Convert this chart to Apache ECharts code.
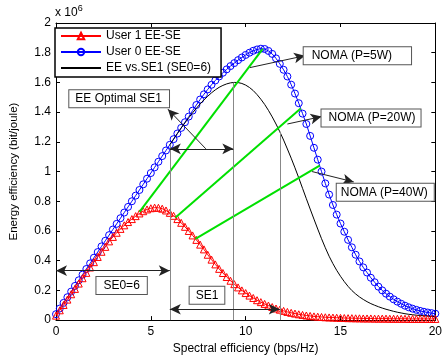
<!DOCTYPE html>
<html>
<head>
<meta charset="utf-8">
<script src="https://cdn.jsdelivr.net/npm/echarts@6.0.0/dist/echarts.min.js"></script>
<style>
  html, body { margin: 0; padding: 0; background: #fff; }
  #chart { width: 445px; height: 360px; }
</style>
</head>
<body>
<div id="chart"></div>
<script>
// spectral efficiency grid (bps/Hz)
const se = [
  0.0, 0.2, 0.4, 0.6, 0.8, 1.0, 1.2, 1.4, 1.6, 1.8,
  2.0, 2.2, 2.4, 2.6, 2.8, 3.0, 3.2, 3.4, 3.6, 3.8,
  4.0, 4.2, 4.4, 4.6, 4.8, 5.0, 5.2, 5.4, 5.6, 5.8,
  6.0, 6.2, 6.4, 6.6, 6.8, 7.0, 7.2, 7.4, 7.6, 7.8,
  8.0, 8.2, 8.4, 8.6, 8.8, 9.0, 9.2, 9.4, 9.6, 9.8,
  10.0, 10.2, 10.4, 10.6, 10.8, 11.0, 11.2, 11.4, 11.6, 11.8,
  12.0, 12.2, 12.4, 12.6, 12.8, 13.0, 13.2, 13.4, 13.6, 13.8,
  14.0, 14.2, 14.4, 14.6, 14.8, 15.0, 15.2, 15.4, 15.6, 15.8,
  16.0, 16.2, 16.4, 16.6, 16.8, 17.0, 17.2, 17.4, 17.6, 17.8,
  18.0, 18.2, 18.4, 18.6, 18.8, 19.0, 19.2, 19.4, 19.6, 19.8,
  20.0
];

// energy efficiency, x 10^6 bit/joule
const user0EE = [
  0.040, 0.078, 0.116, 0.154, 0.192, 0.230, 0.268, 0.306, 0.344, 0.382,
  0.420, 0.458, 0.496, 0.534, 0.572, 0.610, 0.648, 0.686, 0.724, 0.762,
  0.800, 0.838, 0.876, 0.914, 0.952, 0.990, 1.028, 1.066, 1.104, 1.142,
  1.180, 1.218, 1.256, 1.294, 1.332, 1.370, 1.410, 1.448, 1.485, 1.520,
  1.553, 1.584, 1.613, 1.640, 1.665, 1.688, 1.710, 1.730, 1.750, 1.768,
  1.785, 1.800, 1.813, 1.822, 1.827, 1.825, 1.812, 1.792, 1.762, 1.725,
  1.685, 1.640, 1.585, 1.525, 1.460, 1.390, 1.320, 1.240, 1.160, 1.080,
  1.000, 0.920, 0.845, 0.775, 0.710, 0.650, 0.595, 0.540, 0.490, 0.440,
  0.395, 0.355, 0.320, 0.285, 0.255, 0.225, 0.200, 0.178, 0.158, 0.140,
  0.124, 0.110, 0.097, 0.086, 0.077, 0.069, 0.062, 0.056, 0.051, 0.047,
  0.043
];

const user1EE = [
  0.030, 0.066, 0.102, 0.138, 0.174, 0.210, 0.246, 0.282, 0.318, 0.354,
  0.390, 0.425, 0.460, 0.493, 0.530, 0.560, 0.588, 0.614, 0.638, 0.660,
  0.680, 0.700, 0.718, 0.733, 0.745, 0.753, 0.757, 0.756, 0.750, 0.738,
  0.722, 0.702, 0.680, 0.655, 0.628, 0.600, 0.570, 0.540, 0.508, 0.476,
  0.440, 0.407, 0.375, 0.345, 0.317, 0.290, 0.265, 0.242, 0.220, 0.200,
  0.182, 0.165, 0.149, 0.134, 0.121, 0.109, 0.098, 0.088, 0.078, 0.070,
  0.062, 0.055, 0.049, 0.044, 0.039, 0.035, 0.031, 0.028, 0.025, 0.023,
  0.021, 0.019, 0.018, 0.017, 0.016, 0.015, 0.014, 0.013, 0.013, 0.012,
  0.012, 0.011, 0.011, 0.011, 0.010, 0.010, 0.010, 0.010, 0.009, 0.009,
  0.009, 0.009, 0.009, 0.008, 0.008, 0.008, 0.008, 0.008, 0.008, 0.008,
  0.008
];

// EE vs SE1 with SE0 = 6, defined from SE = 6 onwards
const eeVsSe1 = [
  1.180, 1.218, 1.256, 1.293, 1.328, 1.362, 1.395, 1.426, 1.455, 1.482,
  1.507, 1.530, 1.550, 1.567, 1.580, 1.590, 1.597, 1.600, 1.599, 1.593,
  1.582, 1.566, 1.545, 1.518, 1.487, 1.452, 1.412, 1.368, 1.320, 1.268,
  1.212, 1.152, 1.090, 1.025, 0.957, 0.887, 0.817, 0.748, 0.680, 0.613,
  0.548, 0.487, 0.430, 0.380, 0.335, 0.295, 0.259, 0.227, 0.199, 0.176,
  0.156, 0.139, 0.124, 0.111, 0.100, 0.090, 0.081, 0.073, 0.066, 0.059,
  0.053, 0.048, 0.043, 0.039, 0.036, 0.033, 0.031, 0.029, 0.027, 0.025,
  0.024
];
const eeStartIndex = 30; // se[30] = 6

// NOMA operating points: user 1 point -> user 0 point
const nomaLines = [
  [[4.4, 0.728], [10.9, 1.826]],
  [[6.3, 0.690], [12.9, 1.425]],
  [[7.35, 0.547], [13.9, 1.040]]
];

// guide lines dropped from the EE vs SE1 curve
const guideSE = [6, 9.35, 11.8];
const guideEE = [1.18, 1.60, 1.268];

const xTicks = [0, 5, 10, 15, 20];
const yTicks = [0, 0.2, 0.4, 0.6, 0.8, 1, 1.2, 1.4, 1.6, 1.8, 2];

const noteTexts = ['NOMA (P=5W)', 'NOMA (P=20W)', 'NOMA (P=40W)', 'EE Optimal SE1', 'SE0=6', 'SE1'];
const noteAt = [[15.89, 1.78], [16.61, 1.36], [17.36, 0.86], [3.33, 1.49], [3.46, 0.233], [7.96, 0.167]];
const notePad = [[3, 19, 2, 8], [3, 5, 2, 7], [3, 6, 2, 4], [3, 7, 2, 6], [3, 7, 2, 7], [3, 6, 2, 6]];

// arrows: [from, to, doubleHeaded]
const arrows = [
  [[10.23, 1.70], [13.13, 1.78], false],
  [[12.2, 1.32], [14.0, 1.37], false],
  [[13.5, 1.0], [15.7, 0.93], false],
  [[7.9, 1.153], [5.9, 1.42], false],
  [[6, 1.153], [9.35, 1.153], true],
  [[0, 0.333], [6, 0.333], true],
  [[6, 0.073], [11.8, 0.073], true]
];

const FONT = 'Liberation Sans, Arial, Helvetica, sans-serif';
const pairs = (xs, ys) => xs.map((x, i) => [x, ys[i]]);

const chart = echarts.init(document.getElementById('chart'));

const axisCommon = {
  type: 'value',
  splitLine: { show: false },
  axisLine: { show: true, onZero: false, lineStyle: { color: '#000', width: 1 } },
  axisTick: { show: true, inside: true, length: 4, lineStyle: { color: '#000' } },
};

const greenSeries = nomaLines.map((seg, i) => ({
  name: 'noma' + i,
  type: 'line',
  data: seg,
  symbol: 'none',
  silent: true,
  lineStyle: { color: '#00e000', width: 2 },
  z: 4,
}));

chart.setOption({
  animation: false,
  backgroundColor: '#fff',
  textStyle: { fontFamily: FONT },
  grid: { left: 54, right: 4, top: 23, bottom: 37 },
  graphic: [{
    type: 'text',
    left: 55,
    top: 4,
    style: {
      text: '{a|x 10}{b|6}',
      fill: '#000',
      rich: {
        a: { fontSize: 12, fontFamily: FONT },
        b: { fontSize: 9, fontFamily: FONT, padding: [0, 0, 9, 0] },
      },
    },
  }],
  legend: {
    data: [
      { name: 'User 1 EE-SE' },
      { name: 'User 0 EE-SE' },
      { name: 'EE vs.SE1 (SE0=6)', itemStyle: { opacity: 0 } },
    ],
    orient: 'vertical',
    left: 55,
    top: 28,
    itemWidth: 40,
    itemHeight: 8,
    itemGap: 2,
    padding: [1, 10, 2, 5],
    backgroundColor: '#fff',
    borderColor: '#000',
    borderWidth: 1.5,
    borderRadius: 0,
    textStyle: { fontSize: 12, color: '#000', fontFamily: FONT, lineHeight: 14 },
  },
  xAxis: [
    Object.assign({}, axisCommon, {
      min: xTicks[0], max: xTicks[xTicks.length - 1], interval: xTicks[1] - xTicks[0],
      position: 'bottom',
      axisLabel: { fontSize: 12, color: '#000', margin: 6, fontFamily: FONT },
      name: 'Spectral efficiency (bps/Hz)',
      nameLocation: 'middle',
      nameGap: 20,
      nameTextStyle: { fontSize: 12, color: '#000', fontFamily: FONT },
    }),
    Object.assign({}, axisCommon, {
      min: xTicks[0], max: xTicks[xTicks.length - 1], interval: xTicks[1] - xTicks[0],
      position: 'top',
      axisLabel: { show: false },
    }),
  ],
  yAxis: [
    Object.assign({}, axisCommon, {
      min: yTicks[0], max: yTicks[yTicks.length - 1], interval: 0.2,
      position: 'left',
      axisLabel: {
        fontSize: 12, color: '#000', margin: 5, fontFamily: FONT,
        formatter: (v) => String(+v.toFixed(1)),
      },
      name: 'Energy efficiency (bit/joule)',
      nameLocation: 'middle',
      nameGap: 36,
      nameTextStyle: { fontSize: 11.5, color: '#000', fontFamily: FONT },
    }),
    Object.assign({}, axisCommon, {
      min: yTicks[0], max: yTicks[yTicks.length - 1], interval: 0.2,
      position: 'right',
      axisLabel: { show: false },
    }),
  ],
  series: [
    {
      name: 'User 0 EE-SE',
      type: 'line',
      data: pairs(se, user0EE),
      symbol: 'circle',
      symbolSize: 7,
      showAllSymbol: true,
      lineStyle: { color: '#0000ff', width: 1 },
      itemStyle: { color: 'transparent', borderColor: '#0000ff', borderWidth: 1 },
      z: 2,
      markLine: {
        silent: true,
        symbol: 'none',
        label: { show: false },
        lineStyle: { color: '#888', width: 1, type: 'solid' },
        data: guideSE.map((x, i) => [{ coord: [x, 0] }, { coord: [x, guideEE[i]] }]),
      },
    },
    {
      name: 'User 1 EE-SE',
      type: 'line',
      data: pairs(se, user1EE),
      symbol: 'triangle',
      symbolSize: 7,
      showAllSymbol: true,
      lineStyle: { color: '#ff0000', width: 1 },
      itemStyle: { color: 'transparent', borderColor: '#ff0000', borderWidth: 1 },
      z: 3,
    },
    {
      name: 'EE vs.SE1 (SE0=6)',
      type: 'line',
      data: pairs(se.slice(eeStartIndex), eeVsSe1),
      symbol: 'none',
      lineStyle: { color: '#000', width: 1 },
      itemStyle: { color: '#000' },
      z: 3,
    },
    ...greenSeries,
    {
      name: 'notes',
      type: 'line',
      data: [],
      z: 6,
      markLine: {
        silent: true,
        symbolSize: [8, 11],
        label: { show: false },
        lineStyle: { color: '#222', width: 1, type: 'solid' },
        data: arrows.map(([a, b, both]) => [
          { coord: a, symbol: both ? 'arrow' : 'none' },
          { coord: b, symbol: 'arrow' },
        ]),
      },
      markPoint: {
        silent: true,
        symbol: 'rect',
        symbolSize: 0,
        data: noteTexts.map((t, i) => ({
          name: t,
          coord: noteAt[i],
          label: {
            show: true,
            position: 'inside',
            formatter: t,
            fontSize: 12,
            color: '#000',
            fontFamily: FONT,
            backgroundColor: '#fff',
            borderColor: '#555',
            borderWidth: 1,
            padding: notePad[i],
          },
        })),
      },
    },
  ],
});
</script>
</body>
</html>
